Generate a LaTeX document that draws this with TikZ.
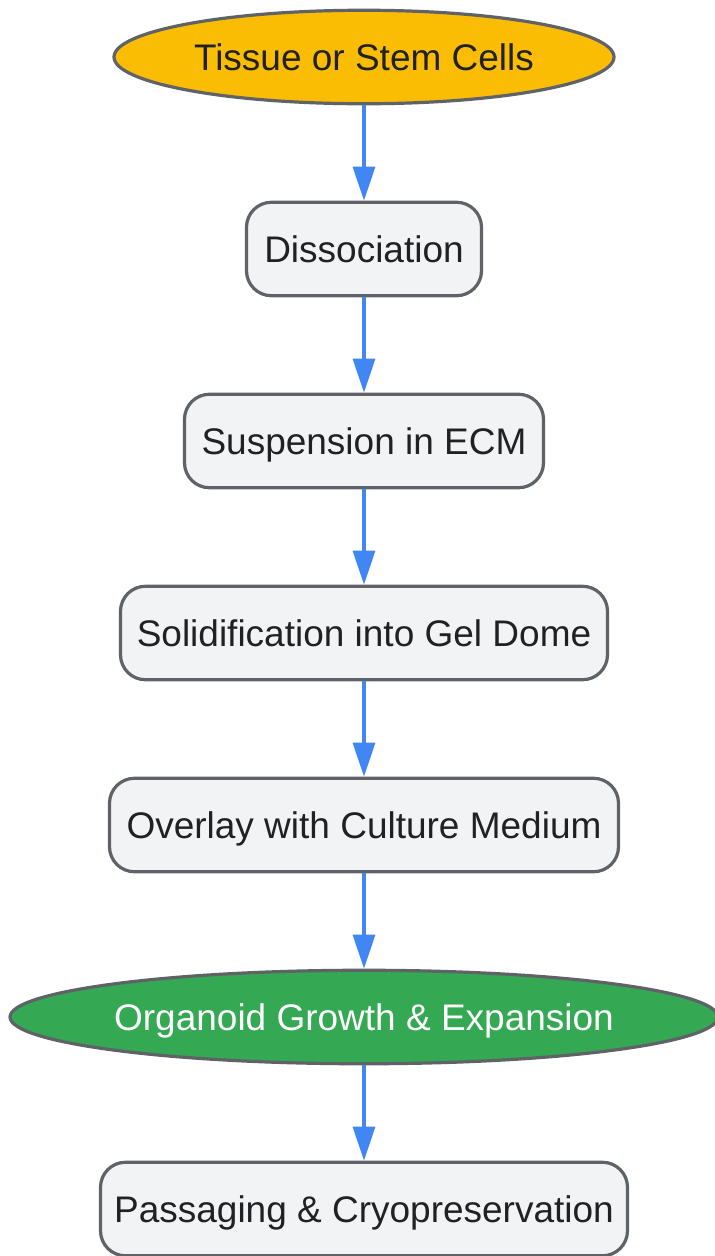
\documentclass[tikz,border=0pt]{standalone}
\usepackage{fontspec}
\setmainfont{Liberation Sans}
\usetikzlibrary{arrows.meta,shapes.geometric}
\definecolor{boxfill}{HTML}{F1F3F4}
\definecolor{boxdraw}{HTML}{5F6368}
\definecolor{txt}{HTML}{202124}
\definecolor{ylw}{HTML}{FBBC04}
\definecolor{grn}{HTML}{34A853}
\definecolor{arr}{HTML}{4285F4}
\begin{document}
\begin{tikzpicture}[x=1pt,y=-1pt,
  every node/.style={font=\fontsize{37}{44}\selectfont, text=txt, text depth=0pt},
  stepbox/.style={draw=boxdraw, fill=boxfill, line width=3.2pt, rounded corners=25pt, minimum height=93.5pt, inner sep=0pt},
  oval/.style={ellipse, draw=boxdraw, line width=3.2pt, inner sep=0pt, minimum height=93.5pt},
  flow/.style={draw=arr, line width=3.2pt, -{Triangle[length=34pt,width=22pt]}}]
\useasboundingbox (0,0) rectangle (715,1256);
\node[oval, fill=ylw, minimum width=500pt] (a) at (364,57) {Tissue or Stem Cells};
\node[stepbox, minimum width=235pt] (b) at (364,249) {Dissociation};
\node[stepbox, minimum width=359pt] (c) at (364,441) {Suspension in ECM};
\node[stepbox, minimum width=487pt] (d) at (364,633) {Solidification into Gel Dome};
\node[stepbox, minimum width=509pt] (e) at (364,825) {Overlay with Culture Medium};
\node[oval, fill=grn, minimum width=708pt, text=white] (f) at (364,1017) {Organoid Growth \& Expansion};
\node[stepbox, minimum width=527pt] (g) at (364,1209) {Passaging \& Cryopreservation};
\draw[flow] (a) -- (b);
\draw[flow] (b) -- (c);
\draw[flow] (c) -- (d);
\draw[flow] (d) -- (e);
\draw[flow] (e) -- (f);
\draw[flow] (f) -- (g);
\end{tikzpicture}
\end{document}
